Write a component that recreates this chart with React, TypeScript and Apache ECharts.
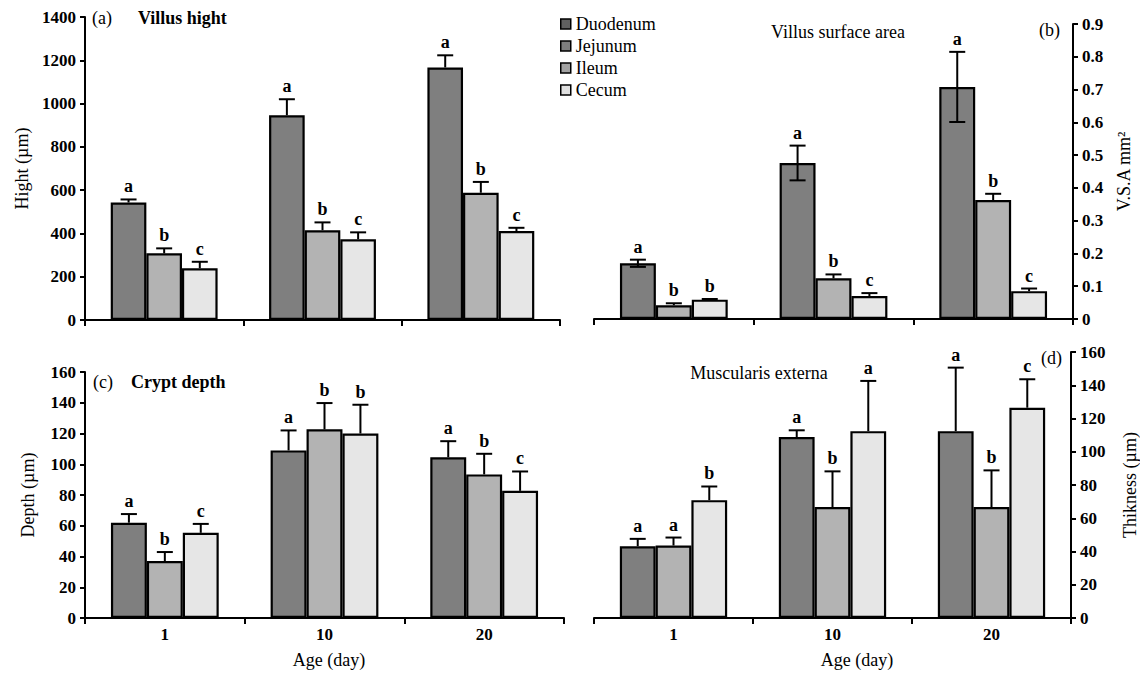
import React, { useEffect, useRef } from "react";
import * as echarts from "echarts";

// ---- data ----
const categories = ["1", "10", "20"];
const barNames = ["Duodenum", "Jejunum", "Cecum"];
const legendNames = ["Duodenum", "Jejunum", "Ileum", "Cecum"];

// (a) Villus hight (µm)
const villusDuo = [543, 946, 1167];
const villusDuoErr = [14, 74, 56];
const villusJej = [308, 415, 588];
const villusJejErr = [23, 36, 50];
const villusCec = [239, 373, 411];
const villusCecErr = [30, 32, 15];
const villusDuoSig = ["a", "a", "a"];
const villusJejSig = ["b", "b", "b"];
const villusCecSig = ["c", "c", "c"];

// (b) Villus surface area (mm²)
const vsaDuo = [0.17, 0.476, 0.708];
const vsaDuoErr = [0.011, 0.053, 0.107];
const vsaJej = [0.042, 0.124, 0.363];
const vsaJejErr = [0.006, 0.012, 0.019];
const vsaCec = [0.059, 0.07, 0.085];
const vsaCecErr = [0.002, 0.009, 0.008];
const vsaDuoSig = ["a", "a", "a"];
const vsaJejSig = ["b", "b", "b"];
const vsaCecSig = ["b", "c", "c"];

// (c) Crypt depth (µm)
const cryptDuo = [62, 109, 104.6];
const cryptDuoErr = [5.6, 13, 10.4];
const cryptJej = [37, 122.7, 93.4];
const cryptJejErr = [5.9, 17.1, 13.4];
const cryptCec = [55.4, 120, 82.7];
const cryptCecErr = [5.8, 18.7, 12.6];
const cryptDuoSig = ["a", "a", "a"];
const cryptJejSig = ["b", "b", "b"];
const cryptCecSig = ["c", "b", "c"];

// (d) Muscularis externa thickness (µm)
const muscDuo = [43.2, 108.8, 112.4];
const muscDuoErr = [4.4, 4.1, 38.2];
const muscJej = [43.6, 66.7, 66.7];
const muscJejErr = [4.8, 21.5, 22.1];
const muscCec = [70.9, 112.4, 126.5];
const muscCecErr = [8.2, 30.2, 17.1];
const muscDuoSig = ["a", "a", "a"];
const muscJejSig = ["a", "b", "b"];
const muscCecSig = ["b", "a", "c"];

const yTicksA = { max: 1400, interval: 200 };
const yTicksB = { max: 0.9, interval: 0.1 };
const yTicksC = { max: 160, interval: 20 };
const yTicksD = { max: 160, interval: 20 };

const barColors = ["#7f7f7f", "#b3b3b3", "#e6e6e6"];
const legendColors = ["#606060", "#7e7e7e", "#a2a2a2", "#e0e0e0"];
const FONT = "'Liberation Serif', 'Times New Roman', serif";
const BAR_FRAC = 0.225;

function buildPanel(
  gi: number,
  values: number[][],
  errs: number[][],
  sigs: string[][],
  twoSidedFirst: boolean
) {
  const series: any[] = [];
  values.forEach((vals, k) => {
    series.push({
      type: "bar",
      name: barNames[k],
      xAxisIndex: gi,
      yAxisIndex: gi,
      data: vals,
      barWidth: BAR_FRAC * 100 + "%",
      barGap: "0%",
      itemStyle: { color: barColors[k], borderColor: "#000", borderWidth: 2.2 },
      emphasis: { disabled: true },
    });
  });
  const errData: number[][] = [];
  const letters: string[] = [];
  const twoSided: boolean[] = [];
  values.forEach((vals, k) => {
    vals.forEach((v, c) => {
      errData.push([c, k, v, errs[k][c]]);
      letters.push(sigs[k][c]);
      twoSided.push(twoSidedFirst && k === 0);
    });
  });
  series.push({
    type: "custom",
    xAxisIndex: gi,
    yAxisIndex: gi,
    data: errData,
    encode: { x: 0, y: 2 },
    clip: false,
    z: 5,
    silent: true,
    renderItem: (params: any, api: any) => {
      const c = api.value(0);
      const k = api.value(1);
      const v = api.value(2);
      const e = api.value(3);
      const catW = api.size([1, 0])[0];
      const bw = catW * BAR_FRAC;
      const x = api.coord([c, 0])[0] + (k - 1) * bw;
      const top = api.coord([c, v + e])[1];
      const two = twoSided[params.dataIndex];
      const base = two ? api.coord([c, v - e])[1] : api.coord([c, v])[1];
      const ls = { stroke: "#000", lineWidth: 2 };
      const children: any[] = [
        { type: "line", shape: { x1: x, y1: base, x2: x, y2: top }, style: ls },
        { type: "line", shape: { x1: x - 8, y1: top, x2: x + 8, y2: top }, style: ls },
      ];
      if (two) {
        children.push({ type: "line", shape: { x1: x - 8, y1: base, x2: x + 8, y2: base }, style: ls });
      }
      children.push({
        type: "text",
        style: {
          text: letters[params.dataIndex],
          x: x,
          y: top - 4,
          align: "center",
          verticalAlign: "bottom",
          fontSize: 18,
          fontWeight: "bold",
          fontFamily: FONT,
          fill: "#000",
        },
      });
      return { type: "group", children };
    },
  });
  return series;
}

const axisLine = { show: true, lineStyle: { color: "#000", width: 2 } };
const axisTick = { show: true, length: 6, lineStyle: { color: "#000", width: 2 } };
const tickFont = { color: "#000", fontSize: 17, fontWeight: "bold", fontFamily: FONT };
const nameFont = { color: "#000", fontSize: 18, fontFamily: FONT };

function xAxisFor(gi: number, showLabels: boolean) {
  return {
    type: "category",
    gridIndex: gi,
    data: categories,
    axisLine,
    axisTick,
    axisLabel: { show: showLabels, margin: 8, ...tickFont },
    splitLine: { show: false },
  };
}

function yAxisFor(
  gi: number,
  t: { max: number; interval: number },
  pos: string,
  name: string,
  gap: number,
  fmt: (v: number) => string
) {
  return {
    type: "value",
    gridIndex: gi,
    position: pos,
    min: 0,
    max: t.max,
    interval: t.interval,
    axisLine,
    axisTick: { show: true, length: 5, lineStyle: { color: "#000", width: 2 } },
    axisLabel: { margin: 9, ...tickFont, formatter: fmt },
    splitLine: { show: false },
    name,
    nameLocation: "middle",
    nameRotate: 90,
    nameGap: gap,
    nameMoveOverlap: false,
    nameTextStyle: nameFont,
  };
}

const plain = (v: number) => String(Math.round(v));
const oneDec = (v: number) => (v === 0 ? "0" : v.toFixed(1));

export default function App() {
  const ref = useRef<HTMLDivElement>(null);
  useEffect(() => {
    if (!ref.current) return;
    const chart = echarts.init(ref.current, undefined, { renderer: "svg" });
    const series = [
      ...buildPanel(0, [villusDuo, villusJej, villusCec], [villusDuoErr, villusJejErr, villusCecErr], [villusDuoSig, villusJejSig, villusCecSig], false),
      ...buildPanel(1, [vsaDuo, vsaJej, vsaCec], [vsaDuoErr, vsaJejErr, vsaCecErr], [vsaDuoSig, vsaJejSig, vsaCecSig], true),
      ...buildPanel(2, [cryptDuo, cryptJej, cryptCec], [cryptDuoErr, cryptJejErr, cryptCecErr], [cryptDuoSig, cryptJejSig, cryptCecSig], false),
      ...buildPanel(3, [muscDuo, muscJej, muscCec], [muscDuoErr, muscJejErr, muscCecErr], [muscDuoSig, muscJejSig, muscCecSig], false),
      {
        type: "bar",
        name: "Ileum",
        xAxisIndex: 4,
        yAxisIndex: 4,
        data: [],
        itemStyle: { color: legendColors[2] },
      },
    ];
    const text = (x: number, y: number, t: string, bold: boolean, align = "left", size = 18) => ({
      type: "text",
      x,
      y,
      style: {
        text: t,
        fontSize: size,
        fontWeight: bold ? "bold" : "normal",
        fontFamily: FONT,
        fill: "#000",
        align,
        verticalAlign: "middle",
      },
    });
    chart.setOption({
      animation: false,
      backgroundColor: "#fff",
      grid: [
        { left: 85, top: 17, width: 475, height: 303 },
        { left: 594, top: 24, width: 479, height: 295 },
        { left: 85, top: 372, width: 479, height: 246 },
        { left: 594, top: 352, width: 479, height: 266 },
        { left: 0, top: 0, width: 1, height: 1, show: false },
      ],
      xAxis: [
        xAxisFor(0, false),
        xAxisFor(1, false),
        xAxisFor(2, true),
        xAxisFor(3, true),
        { type: "category", gridIndex: 4, show: false, data: categories },
      ],
      yAxis: [
        yAxisFor(0, yTicksA, "left", "Hight (µm)", 54, plain),
        yAxisFor(1, yTicksB, "right", "V.S.A mm²", 42, oneDec),
        yAxisFor(2, yTicksC, "left", "Depth (µm)", 48, plain),
        yAxisFor(3, yTicksD, "right", "Thikness (µm)", 50, plain),
        { type: "value", gridIndex: 4, show: false },
      ],
      legend: {
        orient: "vertical",
        left: 555,
        top: 10,
        itemWidth: 10,
        itemHeight: 10,
        itemGap: 4,
        selectedMode: false,
        textStyle: { color: "#000", fontSize: 18, fontFamily: FONT, lineHeight: 18 },
        data: legendNames.map((n, i) => ({
          name: n,
          icon: "rect",
          itemStyle: { color: legendColors[i], borderColor: "#000", borderWidth: 1.5 },
        })),
      },
      graphic: [
        text(92, 18, "(a)", false),
        text(138, 18, "Villus hight", true),
        text(838, 32, "Villus surface area", false, "center"),
        text(1039, 30, "(b)", false),
        text(93, 382, "(c)", false),
        text(131, 382, "Crypt depth", true),
        text(759, 373, "Muscularis externa", false, "center"),
        text(1041, 358, "(d)", false),
        text(329, 660, "Age (day)", false, "center"),
        text(857, 660, "Age (day)", false, "center"),
      ],
      series,
    });
    return () => chart.dispose();
  }, []);
  return <div ref={ref} style={{ position: "absolute", left: 0, top: 0, width: 1140, height: 673 }} />;
}
